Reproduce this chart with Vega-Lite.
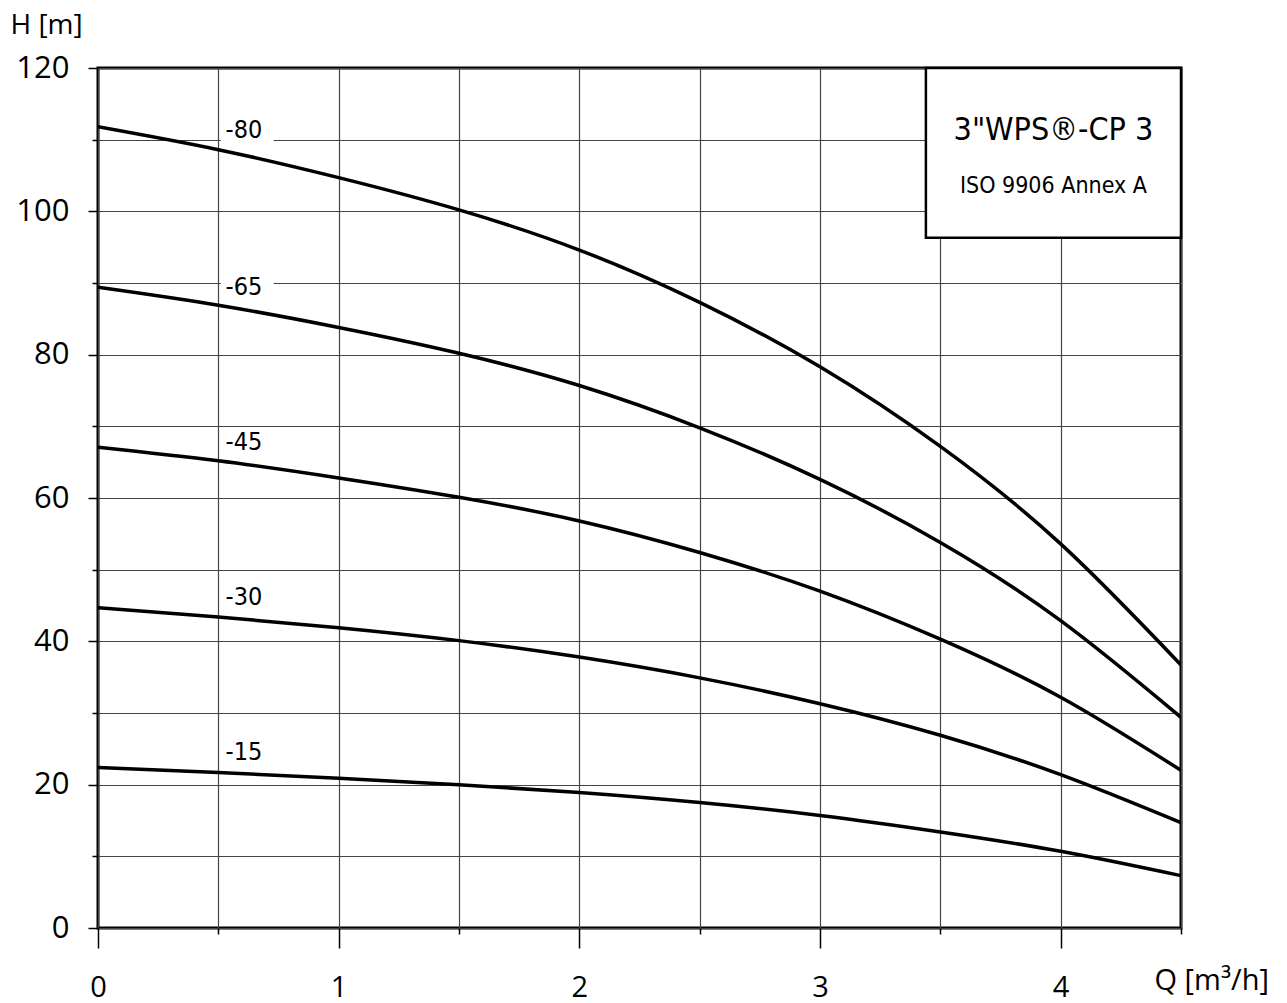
{
  "$schema": "https://vega.github.io/schema/vega-lite/v6.json",
  "width": 1083,
  "height": 860,
  "autosize": {"type": "none"},
  "padding": {"left": 98, "top": 68, "right": 106, "bottom": 75},
  "background": "white",
  "config": {
    "view": {"stroke": "black", "strokeWidth": 3},
    "font": "Open Sans"
  },
  "datasets": {
    "curves": [
      {"curve": "-80", "Q": 0, "H": 111.8}, {"curve": "-80", "Q": 0.5, "H": 108.6}, {"curve": "-80", "Q": 1, "H": 104.7}, {"curve": "-80", "Q": 1.5, "H": 100.2}, {"curve": "-80", "Q": 2, "H": 94.6}, {"curve": "-80", "Q": 2.5, "H": 87.3}, {"curve": "-80", "Q": 3, "H": 78.3}, {"curve": "-80", "Q": 3.5, "H": 67.2}, {"curve": "-80", "Q": 4, "H": 53.6}, {"curve": "-80", "Q": 4.5, "H": 36.7},
      {"curve": "-65", "Q": 0, "H": 89.4}, {"curve": "-65", "Q": 0.5, "H": 86.9}, {"curve": "-65", "Q": 1, "H": 83.8}, {"curve": "-65", "Q": 1.5, "H": 80.2}, {"curve": "-65", "Q": 2, "H": 75.7}, {"curve": "-65", "Q": 2.5, "H": 69.8}, {"curve": "-65", "Q": 3, "H": 62.6}, {"curve": "-65", "Q": 3.5, "H": 53.8}, {"curve": "-65", "Q": 4, "H": 42.9}, {"curve": "-65", "Q": 4.5, "H": 29.4},
      {"curve": "-45", "Q": 0, "H": 67.1}, {"curve": "-45", "Q": 0.5, "H": 65.2}, {"curve": "-45", "Q": 1, "H": 62.8}, {"curve": "-45", "Q": 1.5, "H": 60.1}, {"curve": "-45", "Q": 2, "H": 56.8}, {"curve": "-45", "Q": 2.5, "H": 52.4}, {"curve": "-45", "Q": 3, "H": 47.0}, {"curve": "-45", "Q": 3.5, "H": 40.3}, {"curve": "-45", "Q": 4, "H": 32.2}, {"curve": "-45", "Q": 4.5, "H": 22.0},
      {"curve": "-30", "Q": 0, "H": 44.7}, {"curve": "-30", "Q": 0.5, "H": 43.4}, {"curve": "-30", "Q": 1, "H": 41.9}, {"curve": "-30", "Q": 1.5, "H": 40.1}, {"curve": "-30", "Q": 2, "H": 37.8}, {"curve": "-30", "Q": 2.5, "H": 34.9}, {"curve": "-30", "Q": 3, "H": 31.3}, {"curve": "-30", "Q": 3.5, "H": 26.9}, {"curve": "-30", "Q": 4, "H": 21.4}, {"curve": "-30", "Q": 4.5, "H": 14.7},
      {"curve": "-15", "Q": 0, "H": 22.4}, {"curve": "-15", "Q": 0.5, "H": 21.7}, {"curve": "-15", "Q": 1, "H": 20.9}, {"curve": "-15", "Q": 1.5, "H": 20.0}, {"curve": "-15", "Q": 2, "H": 18.9}, {"curve": "-15", "Q": 2.5, "H": 17.5}, {"curve": "-15", "Q": 3, "H": 15.7}, {"curve": "-15", "Q": 3.5, "H": 13.4}, {"curve": "-15", "Q": 4, "H": 10.7}, {"curve": "-15", "Q": 4.5, "H": 7.3}
    ],
    "labels": [
      {"label": "-80", "Q": 0.53, "H": 111.3},
      {"label": "-65", "Q": 0.53, "H": 89.4},
      {"label": "-45", "Q": 0.53, "H": 67.8},
      {"label": "-30", "Q": 0.53, "H": 46.2},
      {"label": "-15", "Q": 0.53, "H": 24.6}
    ],
    "boxes": [
      {"Q1": 0.51, "Q2": 0.73, "H1": 109.3, "H2": 113.2},
      {"Q1": 0.51, "Q2": 0.73, "H1": 87.5, "H2": 91.3}
    ],
    "legendbox": [
      {"Q1": 3.44, "Q2": 4.5, "H1": 96.3, "H2": 120}
    ],
    "legendtext": [
      {"text": "3\"WPS®-CP 3", "Q": 3.97, "H": 111.3, "size": 32},
      {"text": "ISO 9906 Annex A", "Q": 3.97, "H": 103.6, "size": 23}
    ]
  },
  "layer": [
    {
      "data": {"name": "boxes"},
      "mark": {"type": "rect", "fill": "white", "stroke": null},
      "encoding": {
        "x": {
          "field": "Q1", "type": "quantitative",
          "scale": {"domain": [0, 4.5], "nice": false, "zero": false},
          "axis": {
            "values": [0, 0.5, 1, 1.5, 2, 2.5, 3, 3.5, 4, 4.5],
            "format": "~r",
            "labelExpr": "datum.value % 1 === 0 && datum.value < 4.5 ? datum.label : ''",
            "labelFlush": false, "labelAlign": "center",
            "domain": false,
            "grid": true, "gridColor": "#444444", "gridWidth": 1.2,
            "tickColor": "black", "tickWidth": 1.5,
            "tickSize": {"expr": "datum.value % 1 === 0 ? 20 : 6"},
            "labelPadding": 39, "labelFontSize": 29, "labelFont": "Open Sans", "labelColor": "black",
            "labelBaseline": "middle",
            "title": "Q [m³/h]", "titleFont": "Open Sans", "titleFontSize": 29, "titleFontWeight": "normal",
            "titleAngle": 0, "titleAlign": "left", "titleBaseline": "middle",
            "titleX": 1056, "titleY": 52, "titleColor": "black"
          }
        },
        "x2": {"field": "Q2"},
        "y": {
          "field": "H1", "type": "quantitative",
          "scale": {"domain": [0, 120], "nice": false},
          "axis": {
            "values": [0, 10, 20, 30, 40, 50, 60, 70, 80, 90, 100, 110, 120],
            "labelExpr": "datum.value % 20 === 0 ? datum.label : ''",
            "labelFlush": false, "labelBaseline": "middle",
            "domain": false,
            "grid": true, "gridColor": "#444444", "gridWidth": 1.2,
            "tickColor": "black", "tickWidth": 1.5,
            "tickSize": {"expr": "datum.value % 20 === 0 ? 10 : 6"},
            "labelPadding": 19, "labelFontSize": 31, "labelFont": "Open Sans", "labelColor": "black",
            "title": "H [m]", "titleFont": "Open Sans", "titleFontSize": 28, "titleFontWeight": "normal",
            "titleAngle": 0, "titleAlign": "left", "titleBaseline": "middle",
            "titleX": -88, "titleY": -43, "titleColor": "black"
          }
        },
        "y2": {"field": "H2"}
      }
    },
    {
      "data": {"name": "legendbox"},
      "mark": {"type": "rect", "fill": "white", "stroke": "black", "strokeWidth": 2.5},
      "encoding": {
        "x": {"field": "Q1", "type": "quantitative"},
        "x2": {"field": "Q2"},
        "y": {"field": "H1", "type": "quantitative"},
        "y2": {"field": "H2"}
      }
    },
    {
      "data": {"name": "legendtext"},
      "mark": {"type": "text", "font": "Liberation Sans Narrow, DejaVu Sans Condensed, sans-serif", "color": "black", "align": "center", "baseline": "middle"},
      "encoding": {
        "x": {"field": "Q", "type": "quantitative"},
        "y": {"field": "H", "type": "quantitative"},
        "text": {"field": "text"},
        "size": {"field": "size", "type": "quantitative", "scale": null, "legend": null}
      }
    },
    {
      "data": {"name": "curves"},
      "mark": {"type": "line", "color": "black", "strokeWidth": 3.5, "interpolate": "natural", "clip": true},
      "encoding": {
        "x": {"field": "Q", "type": "quantitative"},
        "y": {"field": "H", "type": "quantitative"},
        "detail": {"field": "curve"}
      }
    },
    {
      "data": {"name": "labels"},
      "mark": {"type": "text", "font": "Liberation Sans Narrow, DejaVu Sans Condensed, sans-serif", "fontSize": 25, "color": "black", "align": "left", "baseline": "middle"},
      "encoding": {
        "x": {"field": "Q", "type": "quantitative"},
        "y": {"field": "H", "type": "quantitative"},
        "text": {"field": "label"}
      }
    }
  ]
}
